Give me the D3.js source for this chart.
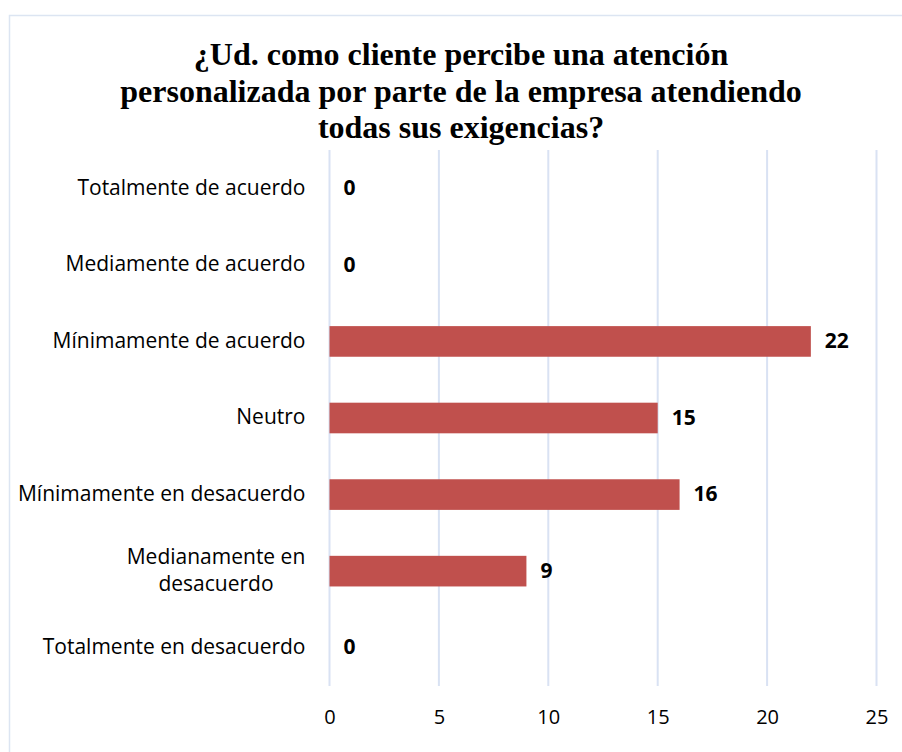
<!DOCTYPE html>
<html>
<head>
<meta charset="utf-8">
<script src="https://cdn.jsdelivr.net/npm/d3@7"></script>
<style>
  body { margin: 0; background: #fff; }
  svg { display: block; }
</style>
</head>
<body>
<div id="chart"></div>
<script>
// data
const categories = [
  "Totalmente de acuerdo",
  "Mediamente de acuerdo",
  "Mínimamente de acuerdo",
  "Neutro",
  "Mínimamente en desacuerdo",
  "Medianamente en desacuerdo",
  "Totalmente en desacuerdo"
];
const values = [0, 0, 22, 15, 16, 9, 0];
const xTicks = [0, 5, 10, 15, 20, 25];
const titleLines = [
  "¿Ud. como cliente percibe una atención",
  "personalizada por parte de la empresa atendiendo",
  "todas sus exigencias?"
];

const W = 902, H = 752;
const margin = { top: 150, right: 25.5, bottom: 66, left: 329.5 };
const width = W - margin.left - margin.right;
const height = H - margin.top - margin.bottom;
const font = "'Open Sans', 'Noto Sans', sans-serif";

const root = d3.select("#chart").append("svg")
  .attr("width", W)
  .attr("height", H);

// outer frame
root.append("rect")
  .attr("x", 9.5).attr("y", 15.5)
  .attr("width", W).attr("height", H)
  .attr("fill", "none")
  .attr("stroke", "#dce5f2")
  .attr("stroke-width", 1.5);

// title
root.append("text")
  .attr("text-anchor", "middle")
  .attr("font-family", "'Liberation Serif', 'Times New Roman', serif")
  .attr("font-weight", "bold")
  .attr("font-size", "32px")
  .attr("fill", "#000")
  .selectAll("tspan")
  .data(titleLines)
  .join("tspan")
  .attr("x", 461)
  .attr("y", (d, i) => 65 + i * 36.5)
  .text(d => d);

const svg = root.append("g")
  .attr("transform", `translate(${margin.left},${margin.top})`);

const x = d3.scaleLinear().domain([0, 25]).range([0, width]);
const y = d3.scaleBand().domain(categories).range([0, height]).paddingInner(0.6).paddingOuter(0.3);

// gridlines
svg.append("g")
  .selectAll("line")
  .data(xTicks)
  .join("line")
  .attr("x1", d => x(d)).attr("x2", d => x(d))
  .attr("y1", 0).attr("y2", height)
  .attr("stroke", "#d9e2f3")
  .attr("stroke-width", 2);

// x axis labels
const xAxis = svg.append("g")
  .attr("transform", `translate(0,${height})`)
  .call(d3.axisBottom(x).tickValues(xTicks).tickSize(0).tickPadding(24));
xAxis.select(".domain").remove();
xAxis.selectAll("text")
  .attr("font-family", font)
  .attr("font-size", "20px")
  .attr("fill", "#000");

// bars
svg.append("g")
  .selectAll("rect")
  .data(values)
  .join("rect")
  .attr("x", x(0))
  .attr("y", (d, i) => y(categories[i]))
  .attr("width", d => x(d) - x(0))
  .attr("height", y.bandwidth())
  .attr("fill", "#c0504d");

// value labels
svg.append("g")
  .selectAll("text")
  .data(values)
  .join("text")
  .attr("x", d => x(d) + 14)
  .attr("y", (d, i) => y(categories[i]) + y.bandwidth() / 2)
  .attr("dy", "0.32em")
  .attr("font-family", font)
  .attr("font-weight", "bold")
  .attr("font-size", "21px")
  .attr("fill", "#000")
  .text(d => d);

// category labels (wrap the long one)
const catLines = {
  "Medianamente en desacuerdo": ["Medianamente en", "desacuerdo"]
};
const yAxis = svg.append("g");
categories.forEach(c => {
  const lines = catLines[c] || [c];
  const cy = y(c) + y.bandwidth() / 2;
  const t = yAxis.append("text")
    .attr("text-anchor", lines.length > 1 ? "middle" : "end")
    .attr("font-family", font)
    .attr("font-size", "21px")
    .attr("fill", "#000");
  lines.forEach((l, i) => {
    t.append("tspan")
      .attr("x", lines.length > 1 ? -113.5 : -24)
      .attr("y", cy + (i - (lines.length - 1) / 2) * 27)
      .attr("dy", "0.3em")
      .text(l);
  });
});
</script>
</body>
</html>
